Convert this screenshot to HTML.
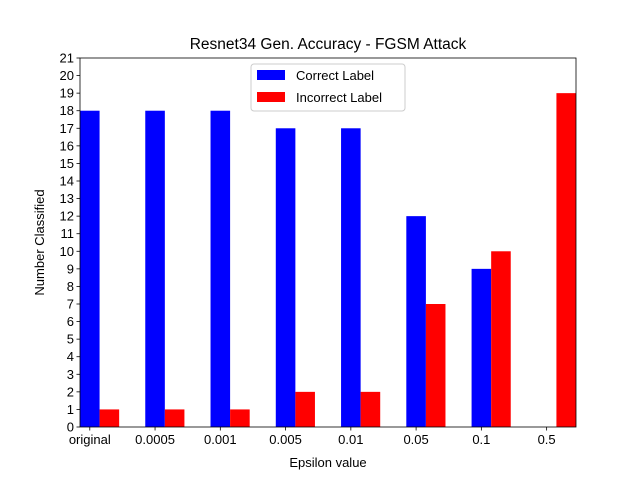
<!DOCTYPE html>
<html><head><meta charset="utf-8"><style>
body{margin:0;background:#fff;}
svg{display:block;font-family:"Liberation Sans","DejaVu Sans",sans-serif;}
</style></head><body>
<svg id="chart" width="640" height="480"></svg>
<script>
const categories = ["original","0.0005","0.001","0.005","0.01","0.05","0.1","0.5"];
const correctValues = [18,18,18,17,17,12,9,0];
const incorrectValues = [1,1,1,2,2,7,10,19];
const yTicks = [0,1,2,3,4,5,6,7,8,9,10,11,12,13,14,15,16,17,18,19,20,21];

const NS = "http://www.w3.org/2000/svg";
const svg = document.getElementById("chart");
const L=80,R=576,T=58,B=427;
const xMin=-0.15,xMax=7.45,yMax=21;
const bw=0.3;
function xs(v){return L+(v-xMin)/(xMax-xMin)*(R-L);}
function ys(v){return B-v/yMax*(B-T);}
function mk(tag,attrs,text){const e=document.createElementNS(NS,tag);for(const k in attrs)e.setAttribute(k,attrs[k]);if(text!==undefined)e.textContent=text;svg.appendChild(e);return e;}

categories.forEach((c,i)=>{
  const b=mk("rect",{x:xs(i-bw/2),y:ys(correctValues[i]),width:xs(i+bw/2)-xs(i-bw/2),height:ys(0)-ys(correctValues[i]),fill:"#0000ff"});
  
  
  const r=mk("rect",{x:xs(i+bw/2),y:ys(incorrectValues[i]),width:xs(i+bw*1.5)-xs(i+bw/2),height:ys(0)-ys(incorrectValues[i]),fill:"#ff0000"});
  
  
  const t=mk("line",{x1:xs(i),x2:xs(i),y1:B,y2:B+3.5,stroke:"#000","stroke-width":0.8});
  
  
  const lb=mk("text",{x:xs(i),y:B+17,"text-anchor":"middle","font-size":13},c);
  
  
});
yTicks.forEach(v=>{
  const t=mk("line",{x1:L-3.5,x2:L,y1:ys(v),y2:ys(v),stroke:"#000","stroke-width":0.8});
  
  
  const lb=mk("text",{x:L-6,y:ys(v)+4.5,"text-anchor":"end","font-size":13},String(v));
  
  
});
const frame=mk("rect",{x:L,y:T,width:R-L,height:B-T,fill:"none",stroke:"#000","stroke-width":0.8});


const title=mk("text",{x:(L+R)/2,y:49,"text-anchor":"middle","font-size":15.5},"Resnet34 Gen. Accuracy - FGSM Attack");


const xt=mk("text",{x:(L+R)/2,y:467,"text-anchor":"middle","font-size":13},"Epsilon value");


const yt=mk("text",{x:44,y:(T+B)/2,"text-anchor":"middle","font-size":13,transform:"rotate(-90 44 "+((T+B)/2)+")"},"Number Classified");


const lg=mk("rect",{x:251,y:64,width:154,height:47,rx:3,fill:"#fff","fill-opacity":0.8,stroke:"#ccc","stroke-width":1});


const s1=mk("rect",{x:257,y:70,width:28,height:10,fill:"#0000ff"});


const l1=mk("text",{x:296,y:80,"font-size":13},"Correct Label");


const s2=mk("rect",{x:257,y:92,width:28,height:10,fill:"#ff0000"});


const l2=mk("text",{x:296,y:102,"font-size":13},"Incorrect Label");


</script>
</body></html>
